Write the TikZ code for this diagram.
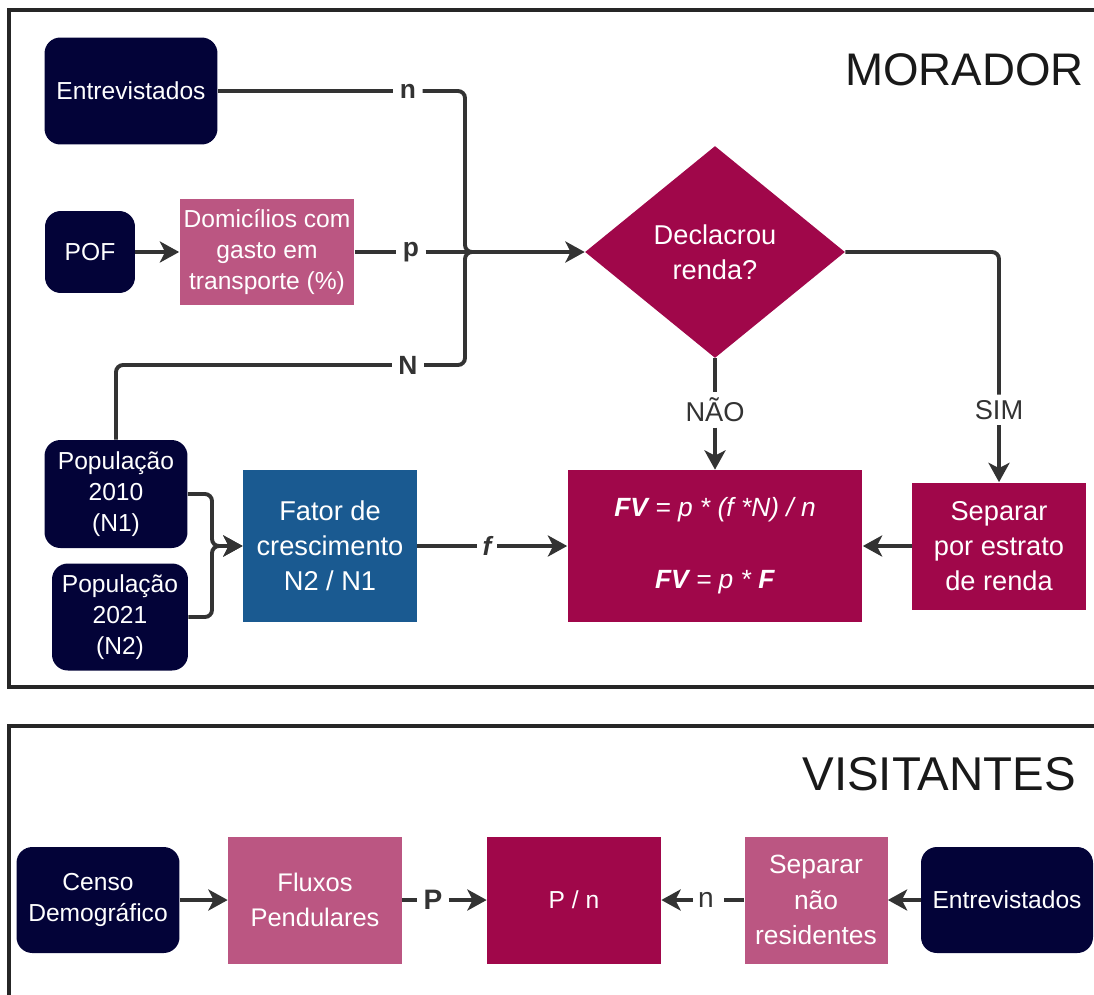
\documentclass[tikz,border=0pt]{standalone}
\usepackage{fontspec}
\setmainfont{Liberation Sans}
\usetikzlibrary{shapes.geometric,arrows.meta,positioning,calc}

\definecolor{navy}{RGB}{3,3,56}
\definecolor{wine}{RGB}{160,7,74}
\definecolor{rose}{RGB}{187,86,130}
\definecolor{steel}{RGB}{26,90,145}
\definecolor{ink}{RGB}{51,51,51}

\begin{document}
\begin{tikzpicture}[
    x=0.02cm, y=-0.02cm,
    boxtext/.style={text=white, align=center, inner sep=0pt, font=\fontsize{14}{17.5}\selectfont},
    loose/.style={font=\fontsize{15.5}{20}\selectfont},
    source/.style={boxtext, fill=navy, rounded corners=9pt},
    proc/.style={boxtext, fill=rose},
    result/.style={boxtext, fill=wine},
    growth/.style={boxtext, fill=steel},
    decision/.style={boxtext, diamond, aspect=1.23, fill=wine},
    conn/.style={draw=ink, line width=2.2pt},
    edge/.style={conn, -{Stealth[length=11pt, width=12pt, inset=3pt]}},
    varlabel/.style={font=\fontsize{15}{18}\selectfont\bfseries, text=ink, inner sep=3.5pt},
    branch/.style={font=\fontsize{15.5}{18}\selectfont, text=ink, inner sep=3pt},
    title/.style={font=\fontsize{26}{30}\selectfont, text=black!90, anchor=east, inner sep=0pt},
    frame/.style={draw=black!85, line width=2.8pt},
]
\useasboundingbox (0,0) rectangle (1094,994);

% Frames
\draw[frame] (1100,10) -- (9,10) -- (9,687) -- (1100,687);
\draw[frame] (1100,726) -- (9,726) -- (9,1000);

\node[title] at (1084,70) {MORADOR};
\node[title, font=\fontsize{27}{30}\selectfont] at (1076,774) {VISITANTES};

% Morador: inputs
\node[source, minimum width=3.46cm, minimum height=2.14cm] (ent1) at (131,91) {Entrevistados};
\node[source, minimum width=1.8cm, minimum height=1.64cm] (pof) at (90,252) {POF};
\node[proc, minimum width=3.5cm, minimum height=2.14cm] (dom) at (267,252) {Domicílios com\\gasto em\\transporte (\%)};
\node[source, minimum width=2.86cm, minimum height=2.16cm] (pop1) at (116,494) {População\\2010\\(N1)};
\node[source, minimum width=2.72cm, minimum height=2.14cm] (pop2) at (120,617) {População\\2021\\(N2)};
\node[growth, loose, minimum width=3.48cm, minimum height=3.04cm] (fat) at (330,546) {Fator de\\crescimento\\N2 / N1};

% Morador: decision and results
\node[decision, loose, minimum width=5.2cm, minimum height=4.24cm] (dec) at (715,252) {Declacrou\\renda?};
\node[result, minimum width=5.9cm, minimum height=3.04cm, font=\fontsize{15}{18}\selectfont] (fv) at (715,546)
  {\textit{\textbf{FV} = p * (f *N) / n}\\[23pt]\textit{\textbf{FV} = p * \textbf{F}}};
\node[result, loose, minimum width=3.48cm, minimum height=2.54cm] (sep) at (999,546) {Separar\\por estrato\\de renda};

% Labels on the lines
\node[varlabel] (lbln) at (408,91) {n};
\node[varlabel] (lblp) at (411,252) {p};
\node[varlabel] (lblN) at (408,365) {N};
\node[varlabel, font=\fontsize{15}{18}\selectfont\bfseries\itshape, inner sep=3pt] (lblf) at (487,546) {f};
\node[branch] (lblnao) at (715,410) {NÃO};
\node[branch] (lblsim) at (999,410) {SIM};
\coordinate (join) at (465,252);
\coordinate (fork) at (212,546);

% Morador: connectors
\draw[edge] (pof.east) -- (dom.west);
\draw[conn] (ent1.east) -- (lbln.west);
\draw[conn, rounded corners=4pt] (lbln.east) -| (join) -- ++(20,0);
\draw[conn] (dom.east) -- (lblp.west);
\draw[edge] (lblp.east) -- (dec.west);
\draw[conn, rounded corners=4pt] (pop1.north) |- (lblN.west);
\draw[conn, rounded corners=4pt] (lblN.east) -| (join) -- ++(20,0);
\draw[edge, rounded corners=4pt] (pop1.east) -| (fork) -- (fat.west);
\draw[edge, rounded corners=4pt] (pop2.east) -| (fork) -- (fat.west);
\draw[conn] (fat.east) -- (lblf.west);
\draw[edge] (lblf.east) -- (fv.west);
\draw[conn] (dec.south) -- (lblnao.north);
\draw[edge] (lblnao.south) -- (fv.north);
\draw[conn, rounded corners=4pt] (dec.east) -| (lblsim.north);
\draw[edge] (lblsim.south) -- (sep.north);
\draw[edge] (sep.west) -- (fv.east);

% Visitantes
\node[source, minimum width=3.26cm, minimum height=2.12cm] (censo) at (98,900) {Censo\\Demográfico};
\node[proc, loose, font=\fontsize{14.5}{20}\selectfont, minimum width=3.48cm, minimum height=2.54cm] (flu) at (315,900) {Fluxos\\Pendulares};
\node[result, minimum width=3.48cm, minimum height=2.54cm] (pn) at (574,900) {P / n};
\node[proc, loose, font=\fontsize{15}{20}\selectfont, minimum width=2.86cm, minimum height=2.54cm] (snr) at (816,900) {Separar\\não\\residentes};
\node[source, minimum width=3.44cm, minimum height=2.12cm] (ent2) at (1007,900) {Entrevistados};
\node[varlabel, font=\fontsize{16}{18}\selectfont\bfseries] (lblP) at (433,900) {P};
\node[branch, font=\fontsize{16}{18}\selectfont] (lbln2) at (706,900) {n};

\draw[edge] (censo.east) -- (flu.west);
\draw[conn] (flu.east) -- (lblP.west);
\draw[edge] (lblP.east) -- (pn.west);
\draw[conn] (snr.west) -- ++(-20,0);
\draw[edge] (lbln2.west) -- (pn.east);
\draw[edge] (ent2.west) -- (snr.east);

\end{tikzpicture}
\end{document}
